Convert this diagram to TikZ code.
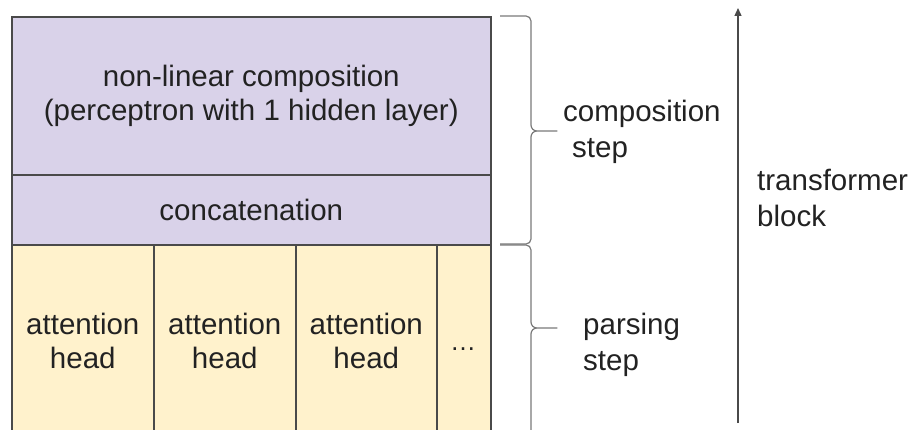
\documentclass[tikz,border=0pt]{standalone}
\usepackage{fontspec}
\setmainfont{Liberation Sans}
\usetikzlibrary{arrows.meta}

\definecolor{lavender}{HTML}{D9D2E9}
\definecolor{cream}{HTML}{FFF2CC}
\definecolor{edge}{HTML}{4A4A4A}
\definecolor{ink}{HTML}{222222}
\definecolor{bracegray}{HTML}{7A7A7A}

\begin{document}
\begin{tikzpicture}[x=1pt,y=-1pt,
    layer/.style={draw=edge,line width=1.6pt,fill=lavender,anchor=north west,inner sep=0pt,align=center,text=ink,font=\fontsize{29.5}{34}\selectfont},
    head/.style={layer,fill=cream,minimum height=192pt},
    steplabel/.style={anchor=west,align=left,inner sep=0pt,text=ink,font=\fontsize{29.5}{36}\selectfont},
    bracket/.style={draw=bracegray,line width=1.2pt,line join=round}]
                \useasboundingbox (0,0) rectangle (912,430);
                \clip (0,0) rectangle (912,430);
                % stacked layers
                \node[layer,minimum width=479pt,minimum height=158pt](comp) at (11,16) {non-linear composition\\(perceptron with 1 hidden layer)};
                \node[layer,minimum width=479pt,minimum height=70pt](concat) at (11,174) {concatenation};
                \node[head,minimum width=142pt](head1) at (11,244) {attention\\head};
                \node[head,minimum width=142pt](head2) at (153,244) {attention\\head};
                \node[head,minimum width=141pt](head3) at (295,244) {attention\\head};
                \node[head,minimum width=54pt](more) at (436,244) {};
                \node[inner sep=0pt,text=ink,font=\fontsize{26}{30}\selectfont](dots) at (463,349) {…};
                % braces
                \draw[bracket] (500,16) -- (526,16) to[out=0,in=90] (531,21) -- (531,125) to[out=-90,in=180] (537,131) -- (557,131)
                    -- (537,131) to[out=180,in=90] (531,137) -- (531,239) to[out=-90,in=0] (526,244) -- (500,244);
                \draw[bracket] (500,245) -- (526,245) to[out=0,in=90] (531,250) -- (531,322) to[out=-90,in=180] (537,328) -- (557,328)
                    -- (537,328) to[out=180,in=90] (531,334) -- (531,440);
                \node[steplabel](compstep) at (563,132) {composition\\\hspace*{9pt}step};
                \node[steplabel](parsestep) at (583,345) {parsing\\step};
                % block arrow
                \coordinate (foot) at (738,423);
                \coordinate (tip) at (738,8);
                \draw[-{Triangle[length=8pt,width=7pt]},line width=1.3pt,draw=edge](foot)--(tip);
                \node[steplabel](block) at (757,198) {transformer\\block};
            \end{tikzpicture}
\end{document}
